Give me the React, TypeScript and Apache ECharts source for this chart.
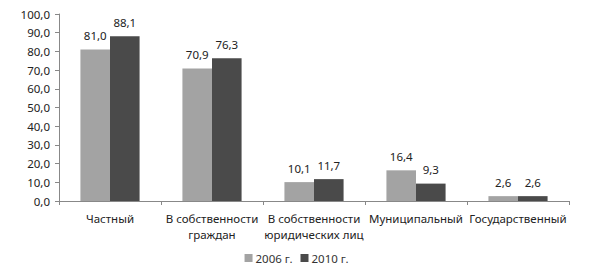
import React, { useEffect, useRef } from "react";
import * as echarts from "echarts";

const categories = [
  "Частный",
  "В собственности\nграждан",
  "В собственности\nюридических лиц",
  "Муниципальный",
  "Государственный",
];
const series2006 = [81.0, 70.9, 10.1, 16.4, 2.6];
const series2010 = [88.1, 76.3, 11.7, 9.3, 2.6];
const seriesNames = ["2006 г.", "2010 г."];

const FONT = "'Noto Sans', sans-serif";
const fmt = (v: number) => v.toFixed(1).replace(".", ",");

export default function App() {
  const ref = useRef<HTMLDivElement>(null);
  useEffect(() => {
    if (!ref.current) return;
    const chart = echarts.init(ref.current, undefined, { renderer: "svg" });
    const label = {
      show: true,
      position: "top",
      distance: 8,
      fontFamily: FONT,
      fontSize: 11.5,
      color: "#222",
      formatter: (p: any) => fmt(p.value),
    };
    chart.setOption({
      animation: false,
      textStyle: { fontFamily: FONT },
      grid: { left: 59, right: 24, top: 14, bottom: 72 },
      legend: {
        bottom: 4,
        left: "center",
        icon: "rect",
        itemWidth: 8,
        itemHeight: 8,
        itemGap: 8,
        textStyle: { fontFamily: FONT, fontSize: 11.5, color: "#333", padding: [0, 0, 0, -2] },
        data: seriesNames,
      },
      xAxis: {
        type: "category",
        data: categories,
        axisLine: { lineStyle: { color: "#888" } },
        axisTick: { show: true, length: 4, lineStyle: { color: "#888" } },
        axisLabel: {
          fontFamily: FONT,
          fontSize: 11.5,
          color: "#222",
          lineHeight: 16,
          margin: 9,
          interval: 0,
        },
      },
      yAxis: {
        type: "value",
        min: 0,
        max: 100,
        interval: 10,
        axisLine: { show: true, lineStyle: { color: "#888" } },
        axisTick: { show: true, length: 4, lineStyle: { color: "#888" } },
        splitLine: { show: false },
        axisLabel: {
          fontFamily: FONT,
          fontSize: 11.5,
          color: "#222",
          margin: 9,
          formatter: (v: number) => fmt(v),
        },
      },
      series: [
        {
          name: seriesNames[0],
          type: "bar",
          data: series2006,
          barGap: "0%",
          barCategoryGap: "42%",
          itemStyle: { color: "#a3a3a3" },
          label,
        },
        {
          name: seriesNames[1],
          type: "bar",
          data: series2010,
          barGap: "0%",
          barCategoryGap: "42%",
          itemStyle: { color: "#4a4a4a" },
          label,
        },
      ],
    });
    return () => chart.dispose();
  }, []);
  return (
    <div
      ref={ref}
      style={{ position: "absolute", left: 0, top: 0, width: 593, height: 273 }}
    />
  );
}
